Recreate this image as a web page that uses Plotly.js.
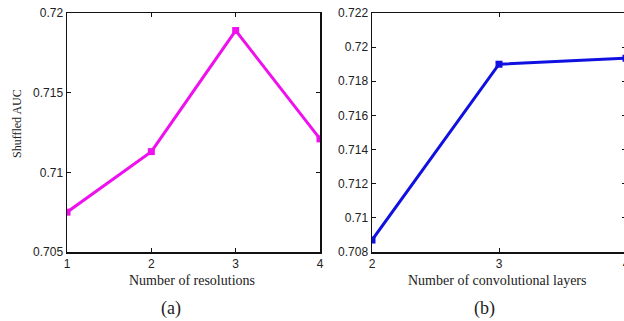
<!DOCTYPE html>
<html><head><meta charset="utf-8">
<script src="https://cdn.plot.ly/plotly-3.0.1.min.js"></script>
<style>html,body{margin:0;padding:0;overflow:hidden;background:#fff}</style>
</head><body><div id="chart"></div>
<script>
const resolutions = [1, 2, 3, 4];
const aucResolutions = [0.7075, 0.7113, 0.7189, 0.7121];
const convLayers = [2, 3, 4];
const aucConvLayers = [0.7087, 0.7190, 0.71935];
const yTicksA = [0.705, 0.71, 0.715, 0.72];
const yTickTextA = ['0.705', '0.71', '0.715', '0.72'];
const yTicksB = [0.708, 0.71, 0.712, 0.714, 0.716, 0.718, 0.72, 0.722];
const yTickTextB = ['0.708', '0.71', '0.712', '0.714', '0.716', '0.718', '0.72', '0.722'];

const W = 630, H = 321;
const px = v => v / W, py = v => 1 - v / H;
const tickFont = {family: 'Liberation Sans, Arial, sans-serif', size: 12, color: '#222'};
const serif = 'Liberation Serif, Times New Roman, serif';

const axisCommon = {
  showgrid: false, zeroline: false, showline: true, linecolor: '#111', linewidth: 1.5,
  mirror: 'ticks', ticks: 'inside', ticklen: 4, tickcolor: '#111', tickwidth: 1,
  tickfont: tickFont
};

const data = [
  {x: resolutions, y: aucResolutions, xaxis: 'x', yaxis: 'y', mode: 'lines+markers',
   line: {color: '#ee11ee', width: 3}, marker: {symbol: 'square', size: 7, color: '#ee11ee'}},
  {x: convLayers, y: aucConvLayers, xaxis: 'x2', yaxis: 'y2', mode: 'lines+markers',
   line: {color: '#1010e0', width: 3}, marker: {symbol: 'square', size: 7, color: '#1010e0'}}
];

function label(text, x, y, size, angle) {
  return {text: text, xref: 'paper', yref: 'paper', x: px(x), y: py(y),
    xanchor: 'center', yanchor: 'middle', showarrow: false, textangle: angle || 0,
    font: {family: serif, size: size, color: '#222'}};
}

const layout = {
  width: W, height: H, margin: {l: 0, r: 0, t: 0, b: 0},
  paper_bgcolor: '#fff', plot_bgcolor: '#fff', showlegend: false,
  xaxis: Object.assign({}, axisCommon, {domain: [px(67), px(320)], range: [1, 4],
    tickvals: resolutions, anchor: 'y'}),
  yaxis: Object.assign({}, axisCommon, {domain: [py(252), py(13)], range: [0.705, 0.72],
    tickvals: yTicksA, ticktext: yTickTextA, anchor: 'x'}),
  xaxis2: Object.assign({}, axisCommon, {domain: [px(372), px(626)], range: [2, 4],
    tickvals: convLayers, anchor: 'y2'}),
  yaxis2: Object.assign({}, axisCommon, {domain: [py(252), py(13)], range: [0.708, 0.722],
    tickvals: yTicksB, ticktext: yTickTextB, anchor: 'x2'}),
  annotations: [
    label('Number of resolutions', 192, 280, 14),
    label('Number of convolutional layers', 497, 280, 14),
    label('Shuffled AUC', 17, 124, 12, -90),
    label('(a)', 171, 308, 18),
    label('(b)', 484, 308, 18)
  ]
};

Plotly.newPlot('chart', data, layout, {displayModeBar: false, staticPlot: true});
</script></body></html>
